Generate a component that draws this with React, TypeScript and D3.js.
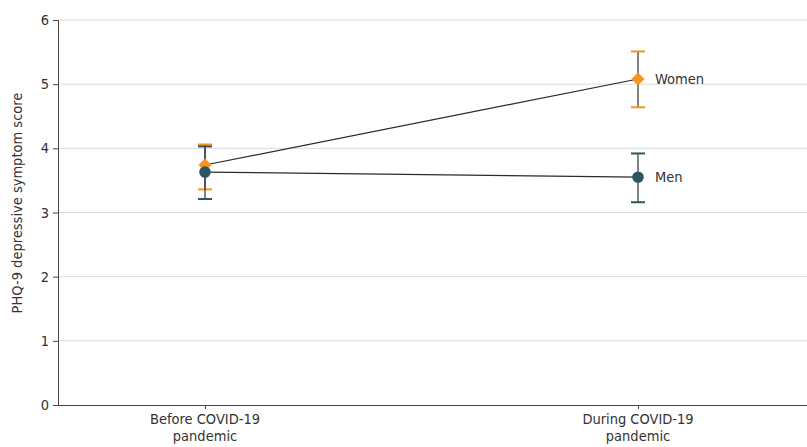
import React, { useRef, useEffect } from "react";
import * as d3 from "d3";

const periods = ["Before COVID-19|pandemic", "During COVID-19|pandemic"];
const yTicks = [0, 1, 2, 3, 4, 5, 6];

const womenMean = [3.74, 5.08];
const womenLower = [3.36, 4.64];
const womenUpper = [4.06, 5.51];

const menMean = [3.63, 3.55];
const menLower = [3.21, 3.16];
const menUpper = [4.03, 3.92];

const seriesNames = ["Women", "Men"];

export default function App() {
  const svgRef = useRef<SVGSVGElement>(null);

  useEffect(() => {
    if (!svgRef.current) return;
    d3.select(svgRef.current).selectAll("*").remove();

    const width = 807;
    const height = 447;
    const font = "'DejaVu Sans Condensed', 'Roboto', sans-serif";
    const left = 58;
    const top = 20;
    const bottom = 405;

    const svg = d3.select(svgRef.current).attr("width", width).attr("height", height);

    const x = d3.scalePoint<string>().domain(periods).range([205, 638]);
    const y = d3.scaleLinear().domain([0, 6]).range([bottom, top]);

    // grid
    svg
      .append("g")
      .selectAll("line")
      .data(yTicks.filter((t) => t > 0))
      .enter()
      .append("line")
      .attr("x1", left)
      .attr("x2", width)
      .attr("y1", (d) => y(d))
      .attr("y2", (d) => y(d))
      .attr("stroke", "#dcdcdc")
      .attr("stroke-width", 1);

    // y axis
    const yAxis = svg
      .append("g")
      .attr("transform", `translate(${left},0)`)
      .call(d3.axisLeft(y).tickValues(yTicks).tickSize(5).tickPadding(4).tickFormat(d3.format("d")));
    yAxis.select(".domain").attr("stroke", "#444");
    yAxis.selectAll(".tick line").attr("stroke", "#444");
    yAxis
      .selectAll(".tick text")
      .attr("font-family", font)
      .attr("font-size", 14.5)
      .attr("fill", "#333");

    // x axis
    const xAxis = svg
      .append("g")
      .attr("transform", `translate(0,${bottom})`)
      .call(d3.axisBottom(x).tickSize(4).tickSizeOuter(0).tickFormat(() => ""));
    xAxis.select(".domain").attr("d", `M${left},0.5H${width}`).attr("stroke", "#444");
    xAxis.selectAll(".tick line").attr("stroke", "#444");

    periods.forEach((p) => {
      const lines = p.split("|");
      lines.forEach((l, i) => {
        svg
          .append("text")
          .attr("x", x(p)!)
          .attr("y", bottom + 19 + i * 17)
          .attr("text-anchor", "middle")
          .attr("font-family", font)
          .attr("font-size", 14.5)
          .attr("fill", "#333")
          .text(l);
      });
    });

    // y title
    svg
      .append("text")
      .attr("transform", `translate(22,203) rotate(-90)`)
      .attr("text-anchor", "middle")
      .attr("font-family", font)
      .attr("font-size", 14.5)
      .attr("fill", "#333")
      .text("PHQ-9 depressive symptom score");

    const series = [
      { name: seriesNames[0], mean: womenMean, lo: womenLower, hi: womenUpper, color: "#F7941D", shape: "diamond" },
      { name: seriesNames[1], mean: menMean, lo: menLower, hi: menUpper, color: "#2C5666", shape: "circle" },
    ];

    const line = d3
      .line<number>()
      .x((_, i) => x(periods[i])!)
      .y((d) => y(d));

    series.forEach((s) => {
      svg
        .append("path")
        .datum(s.mean)
        .attr("fill", "none")
        .attr("stroke", "#2a2a2a")
        .attr("stroke-width", 1.2)
        .attr("d", line);
    });

    series.forEach((s) => {
      const g = svg.append("g");
      periods.forEach((p, i) => {
        const cx = x(p)!;
        g.append("line")
          .attr("x1", cx)
          .attr("x2", cx)
          .attr("y1", y(s.lo[i]))
          .attr("y2", y(s.hi[i]))
          .attr("stroke", "#333")
          .attr("stroke-width", 1.2);
        [s.lo[i], s.hi[i]].forEach((v) => {
          g.append("line")
            .attr("x1", cx - 7)
            .attr("x2", cx + 7)
            .attr("y1", y(v))
            .attr("y2", y(v))
            .attr("stroke", s.color)
            .attr("stroke-width", 2);
        });
      });
    });

    series.forEach((s) => {
      const sym = d3
        .symbol()
        .type(s.shape === "diamond" ? d3.symbolDiamond2 : d3.symbolCircle)
        .size(s.shape === "diamond" ? 110 : 105);
      periods.forEach((p, i) => {
        svg
          .append("path")
          .attr("d", sym()!)
          .attr("transform", `translate(${x(p)},${y(s.mean[i])})`)
          .attr("fill", s.color);
      });
      svg
        .append("text")
        .attr("x", x(periods[1])! + 17)
        .attr("y", y(s.mean[1]) + 5)
        .attr("font-family", font)
        .attr("font-size", 14.5)
        .attr("fill", "#333")
        .text(s.name);
    });
  }, []);

  return <svg ref={svgRef} style={{ position: "absolute", left: 0, top: 0 }}></svg>;
}
